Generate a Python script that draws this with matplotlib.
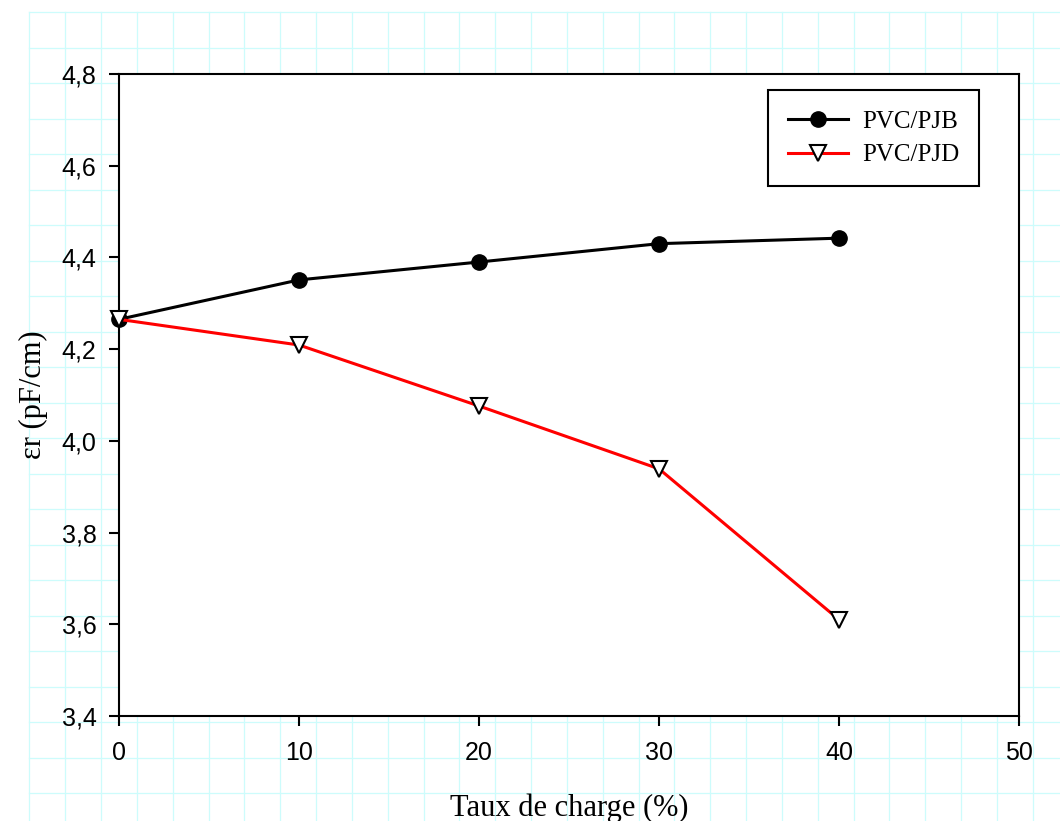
import matplotlib
matplotlib.use("Agg")
import matplotlib.pyplot as plt
from matplotlib.lines import Line2D

# Data: relative permittivity versus filler content
taux = [0, 10, 20, 30, 40]
pvc_pjb = [4.265, 4.351, 4.390, 4.430, 4.442]
pvc_pjd = [4.265, 4.209, 4.076, 3.939, 3.610]

x_ticks = [0, 10, 20, 30, 40, 50]
y_ticks = [3.4, 3.6, 3.8, 4.0, 4.2, 4.4, 4.6, 4.8]
y_ticklabels = ["3,4", "3,6", "3,8", "4,0", "4,2", "4,4", "4,6", "4,8"]

plt.rcParams["font.family"] = ["Liberation Sans", "DejaVu Sans"]
plt.rcParams["xtick.labelsize"] = 18
plt.rcParams["ytick.labelsize"] = 18

W, H = 1060, 821
fig = plt.figure(figsize=(W / 100, H / 100), dpi=100)
fig.patch.set_facecolor("white")

# Light cyan sheet grid behind the chart
bg = fig.add_axes([0, 0, 1, 1], zorder=-5)
bg.set_xlim(0, W)
bg.set_ylim(H, 0)
bg.axis("off")
gx0, gdx = 29.3, 35.84
gy0, gdy = 12.0, 35.51
grid_col = "#cdfcfc"
x = gx0
while x <= W:
    bg.add_line(Line2D([x, x], [gy0, H], color=grid_col, lw=0.9))
    x += gdx
y = gy0
while y <= H:
    bg.add_line(Line2D([gx0, W], [y, y], color=grid_col, lw=0.9))
    y += gdy

ax = fig.add_axes([119 / W, 1 - 716 / H, 900 / W, 642 / H], zorder=1)
ax.set_facecolor("white")

ax.plot(taux, pvc_pjb, color="black", lw=2.2, marker="o", markersize=11,
        markerfacecolor="black", markeredgecolor="black", label="PVC/PJB",
        clip_on=False, zorder=3)
ax.plot(taux, pvc_pjd, color="red", lw=2.2, marker="v", markersize=11,
        markerfacecolor="white", markeredgecolor="black", markeredgewidth=1.5,
        label="PVC/PJD", clip_on=False, zorder=4)

ax.set_xlim(0, 50)
ax.set_ylim(3.4, 4.8)
ax.set_xticks(x_ticks)
ax.set_yticks(y_ticks)
ax.set_yticklabels(y_ticklabels)

for s in ax.spines.values():
    s.set_linewidth(1.5)
    s.set_color("black")

ax.tick_params(axis="both", direction="out", length=7.2, width=1.5,
               colors="black")
ax.tick_params(axis="y", pad=9)
ax.tick_params(axis="x", pad=11)

ax.set_xlabel("Taux de charge (%)", family="Liberation Serif", fontsize=22,
              labelpad=20)
ax.set_ylabel("εr (pF/cm)", family="Liberation Serif", fontsize=22,
              labelpad=10)

leg = ax.legend(loc="upper right", bbox_to_anchor=(0.9556, 0.975),
                borderaxespad=0, frameon=True, fancybox=False,
                edgecolor="black", framealpha=1, handlelength=2.4,
                handletextpad=0.55, borderpad=0.8, labelspacing=0.45,
                prop={"family": "Liberation Serif", "size": 18})
leg.get_frame().set_linewidth(1.5)

fig.savefig("out.png", dpi=100)
